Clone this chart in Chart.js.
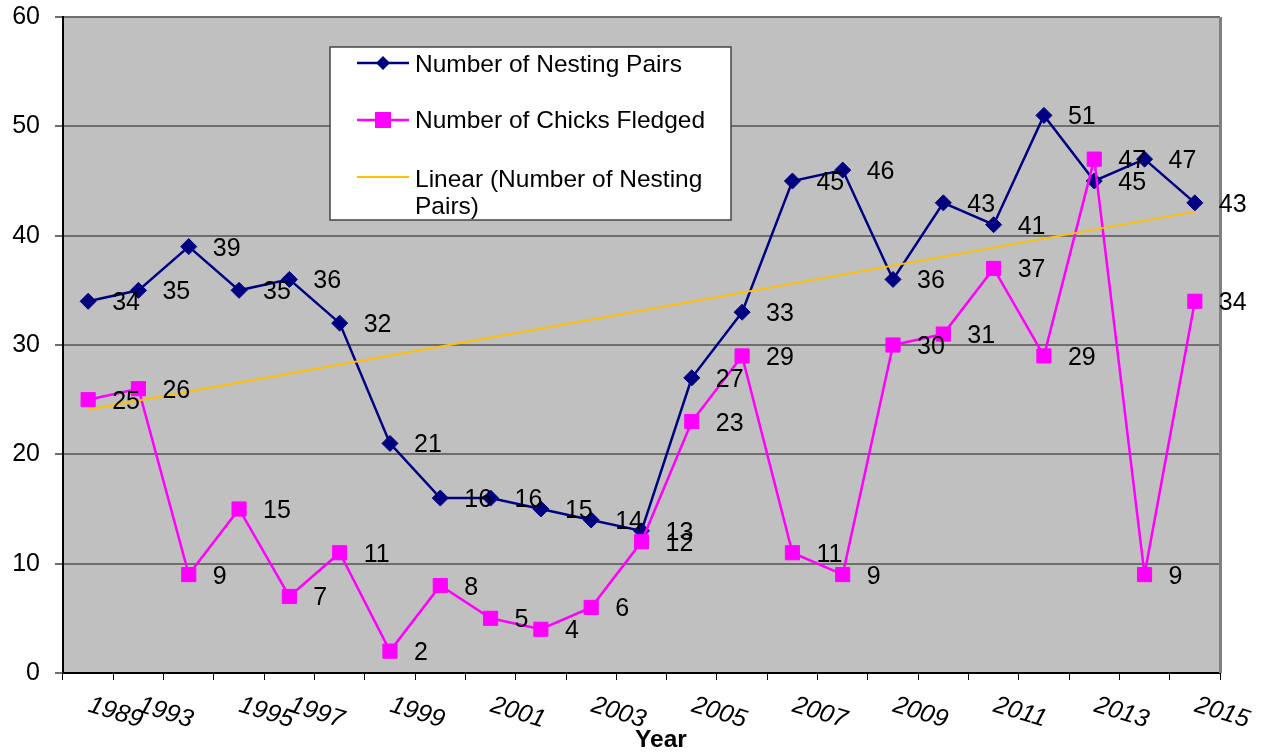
<!DOCTYPE html>
<html>
<head>
<meta charset="utf-8">
<script src="https://cdn.jsdelivr.net/npm/chart.js@4.4.1/dist/chart.umd.min.js"></script>
<style>
    html, body { margin: 0; padding: 0; background: #fff; }
    #wrap { width: 1263px; height: 756px; }
</style>
</head>
<body>
<div id="wrap"><canvas id="grafico" width="1263" height="756"></canvas></div>
<script>
// Dados
const anos = ['1989', '1993', '1994', '1995', '1997', '1998', '1999', '2000', '2001', '2002', '2003', '2004',
              '2005', '2006', '2007', '2008', '2009', '2010', '2011', '2012', '2013', '2014', '2015'];
const casaisNidificando = [34, 35, 39, 35, 36, 32, 21, 16, 16, 15, 14, 13, 27, 33, 45, 46, 36, 43, 41, 51, 45, 47, 43];
const filhotesVoando = [25, 26, 9, 15, 7, 11, 2, 8, 5, 4, 6, 12, 23, 29, 11, 9, 30, 31, 37, 29, 47, 9, 34];
// extremos da linha de tendência
const tendenciaExtremos = [24.1, 42.2];
// rótulos que aparecem no eixo x
const rotulosEixo = ['1989', '1993', '1995', '1997', '1999', '2001', '2003', '2005', '2007', '2009', '2011', '2013', '2015'];
const ticksY = [0, 10, 20, 30, 40, 50, 60];

const FONTE = '"Liberation Sans", Arial, sans-serif';
const AZUL = '#000080';
const MAGENTA = '#FF00FF';
const LARANJA = '#FFC000';

const tendencia = anos.map((a, i) => i === 0 ? tendenciaExtremos[0] : (i === anos.length - 1 ? tendenciaExtremos[1] : null));

// Fundo cinza da área do gráfico e borda direita
const fundoPlot = {
    id: 'fundoPlot',
    beforeDraw(chart) {
        const { ctx, chartArea: a } = chart;
        ctx.save();
        ctx.fillStyle = '#C0C0C0';
        ctx.fillRect(a.left, a.top, a.right - a.left, a.bottom - a.top);
        ctx.restore();
    },
    beforeDatasetsDraw(chart) {
        const { ctx, chartArea: a } = chart;
        ctx.save();
        ctx.strokeStyle = '#808080';
        ctx.lineWidth = 3;
        ctx.beginPath();
        ctx.moveTo(a.right + 0.5, a.top);
        ctx.lineTo(a.right + 0.5, a.bottom);
        ctx.stroke();
        ctx.restore();
    }
};

// Números ao lado de cada ponto
const rotulosDados = {
    id: 'rotulosDados',
    afterDatasetsDraw(chart) {
        const ctx = chart.ctx;
        ctx.save();
        ctx.font = '25px ' + FONTE;
        ctx.fillStyle = '#000';
        ctx.textAlign = 'left';
        ctx.textBaseline = 'alphabetic';
        [0, 1].forEach(di => {
            const meta = chart.getDatasetMeta(di);
            const valores = chart.data.datasets[di].data;
            meta.data.forEach((pt, i) => {
                ctx.fillText(String(valores[i]), pt.x + 24, pt.y + 9);
            });
        });
        ctx.restore();
    }
};

// Rótulos inclinados do eixo x, título "Year" e legenda dentro do gráfico
const extras = {
    id: 'extras',
    afterDraw(chart) {
        const { ctx, chartArea: a } = chart;
        const xScale = chart.scales.x;

        ctx.save();
        ctx.fillStyle = '#000';
        ctx.font = 'italic 25px ' + FONTE;
        ctx.textAlign = 'left';
        ctx.textBaseline = 'alphabetic';
        anos.forEach((ano, i) => {
            if (!rotulosEixo.includes(ano)) return;
            const x = xScale.getPixelForValue(i);
            ctx.save();
            ctx.translate(x + 4, a.bottom + 21);
            ctx.rotate(17 * Math.PI / 180);
            ctx.fillText(ano, 0, 18);
            ctx.restore();
        });

        ctx.font = 'bold 24.5px ' + FONTE;
        ctx.textAlign = 'center';
        ctx.fillText('Year', 661, 747);

        // legenda
        ctx.fillStyle = '#fff';
        ctx.fillRect(330, 47, 401, 173);
        ctx.strokeStyle = '#444';
        ctx.lineWidth = 1.5;
        ctx.strokeRect(330, 47, 401, 173);

        const linha = (y, cor, largura) => {
            ctx.strokeStyle = cor;
            ctx.lineWidth = largura;
            ctx.beginPath();
            ctx.moveTo(357, y);
            ctx.lineTo(409, y);
            ctx.stroke();
        };
        linha(63, AZUL, 2.5);
        ctx.fillStyle = AZUL;
        ctx.beginPath();
        ctx.moveTo(383 - 7, 63);
        ctx.lineTo(383, 63 - 7);
        ctx.lineTo(383 + 7, 63);
        ctx.lineTo(383, 63 + 7);
        ctx.closePath();
        ctx.fill();

        linha(120, MAGENTA, 2.5);
        ctx.fillStyle = MAGENTA;
        ctx.fillRect(375, 112, 16, 16);

        linha(177, LARANJA, 2);

        ctx.fillStyle = '#000';
        ctx.font = '24.5px ' + FONTE;
        ctx.textAlign = 'left';
        ctx.fillText('Number of Nesting Pairs', 415, 72);
        ctx.fillText('Number of Chicks Fledged', 415, 128);
        ctx.fillText('Linear (Number of Nesting', 415, 187);
        ctx.fillText('Pairs)', 415, 214);
        ctx.restore();
    }
};

const ctxGrafico = document.getElementById('grafico').getContext('2d');
new Chart(ctxGrafico, {
    type: 'line',
    data: {
        labels: anos,
        datasets: [{
            label: 'Number of Nesting Pairs',
            data: casaisNidificando,
            borderColor: AZUL,
            backgroundColor: AZUL,
            borderWidth: 2.5,
            pointStyle: 'rectRot',
            pointRadius: 8,
            pointBorderWidth: 1,
            pointBackgroundColor: AZUL,
            pointBorderColor: AZUL,
            tension: 0,
            order: 3
        }, {
            label: 'Number of Chicks Fledged',
            data: filhotesVoando,
            borderColor: MAGENTA,
            backgroundColor: MAGENTA,
            borderWidth: 2.5,
            pointStyle: 'rect',
            pointRadius: 10,
            pointBorderWidth: 1,
            pointBackgroundColor: MAGENTA,
            pointBorderColor: MAGENTA,
            tension: 0,
            order: 2
        }, {
            label: 'Linear (Number of Nesting Pairs)',
            data: tendencia,
            borderColor: LARANJA,
            borderWidth: 2,
            pointRadius: 0,
            spanGaps: true,
            tension: 0,
            order: 1
        }]
    },
    options: {
        responsive: false,
        animation: false,
        devicePixelRatio: 1,
        layout: { padding: { top: 17, right: 43, left: 0, bottom: 0 } },
        plugins: {
            legend: { display: false },
            tooltip: { enabled: false }
        },
        scales: {
            x: {
                type: 'category',
                offset: true,
                grid: { offset: true, drawOnChartArea: false, drawTicks: true, tickLength: 7, color: '#000', lineWidth: 1 },
                border: { color: '#000', width: 2 },
                ticks: { display: false },
                afterFit: s => { s.height = 83; s.paddingLeft = 0; s.paddingRight = 0; }
            },
            y: {
                min: ticksY[0],
                max: ticksY[ticksY.length - 1],
                ticks: { stepSize: 10, color: '#000', font: { size: 25, family: FONTE }, padding: 15 },
                grid: { color: '#6e6e6e', lineWidth: 2, tickLength: 8 },
                border: { color: '#000', width: 2 },
                afterFit: s => { s.width = 63; s.paddingTop = 0; s.paddingBottom = 0; }
            }
        }
    },
    plugins: [fundoPlot, rotulosDados, extras]
});
</script>
</body>
</html>
